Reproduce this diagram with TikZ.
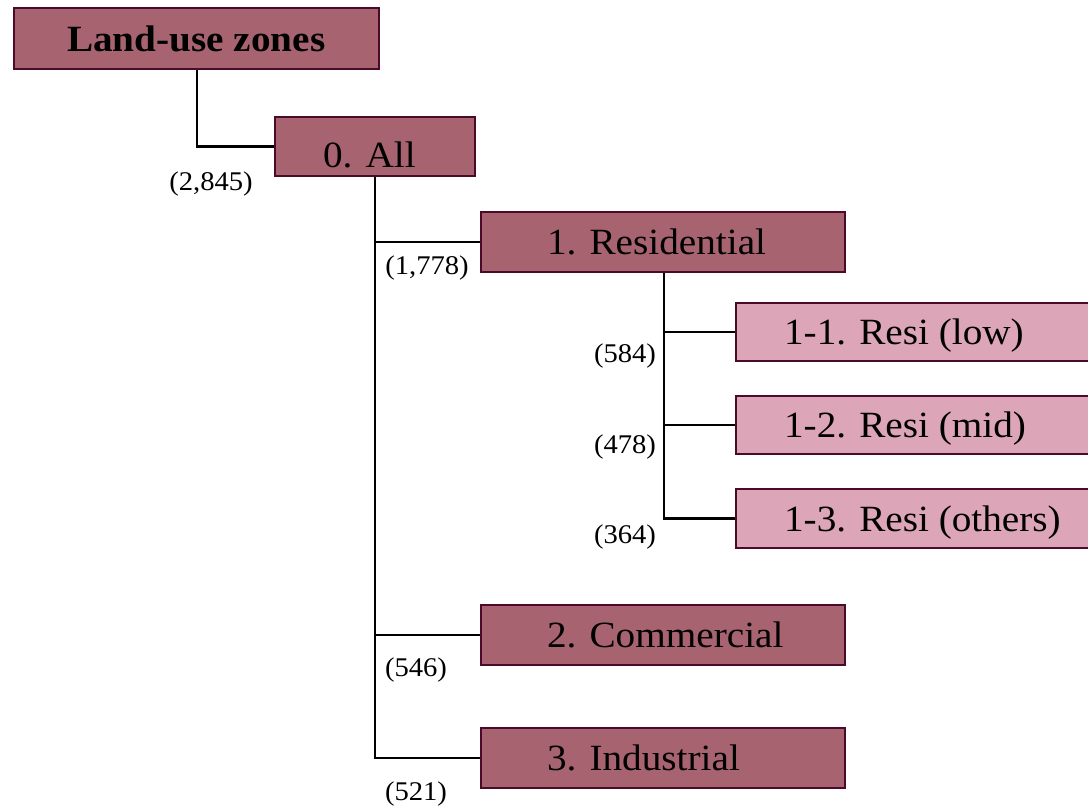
\documentclass[tikz,border=0pt]{standalone}
\usepackage{fontspec}
\setmainfont{Liberation Serif}[FakeStretch=1.06]
\definecolor{darkfill}{RGB}{168,99,112}
\definecolor{lightfill}{RGB}{220,166,184}
\definecolor{boxline}{RGB}{75,10,40}
\tikzset{
  box/.style={draw=boxline, line width=2.2pt, inner sep=0pt, anchor=north west,
    minimum height=60pt, text height=25pt, text depth=0pt,
    font=\fontsize{37}{42}\selectfont},
  dark/.style={box, fill=darkfill},
  light/.style={box, fill=lightfill},
  conn/.style={line width=2.4pt, draw=black},
  cnt/.style={inner sep=0pt, font=\fontsize{27}{31}\selectfont}
}
\newcommand{\boxtext}[3]{\makebox[#1pt][l]{\hspace*{#2pt}#3}}
\begin{document}
\begin{tikzpicture}[x=1pt,y=-1pt]
\useasboundingbox (0,0) rectangle (1088,809);
\clip (0,0) rectangle (1088,809);
\node[dark, minimum height=61pt] (lz) at (13,7) {\boxtext{365}{53}{\bfseries Land-use zones}};
\node[dark, minimum height=59pt, text height=42pt] (all) at (274,116) {\boxtext{200}{48}{0. All}};
\node[dark] (res) at (480,211) {\boxtext{364}{66}{1. Residential}};
\node[light, minimum height=58pt] (r1) at (735,302) {\boxtext{364}{48}{1-1. Resi (low)}};
\node[light, minimum height=58pt] (r2) at (735,395) {\boxtext{364}{48}{1-2. Resi (mid)}};
\node[light, minimum height=59pt] (r3) at (735,488) {\boxtext{364}{48}{1-3. Resi (others)}};
\node[dark] (com) at (480,604) {\boxtext{364}{66}{2. Commercial}};
\node[dark] (ind) at (480,727) {\boxtext{364}{66}{3. Industrial}};

\draw[conn] ([xshift=184pt]lz.south west) |- (all.west);
\draw[conn] (all.south) |- (res.west);
\draw[conn] (all.south) |- (com.west);
\draw[conn] (all.south) |- (ind.west);
\draw[conn] ([xshift=1pt]res.south) |- (r1.west);
\draw[conn] ([xshift=1pt]res.south) |- (r2.west);
\draw[conn] ([xshift=1pt]res.south) |- (r3.west);

\node[cnt] (n0) at (211,184) {(2,845)};
\node[cnt] (n1) at (427,268) {(1,778)};
\node[cnt] (n11) at (625,356) {(584)};
\node[cnt] (n12) at (625,447) {(478)};
\node[cnt] (n13) at (625,537) {(364)};
\node[cnt] (n2) at (416,670) {(546)};
\node[cnt] (n3) at (416,794) {(521)};
\end{tikzpicture}
\end{document}
